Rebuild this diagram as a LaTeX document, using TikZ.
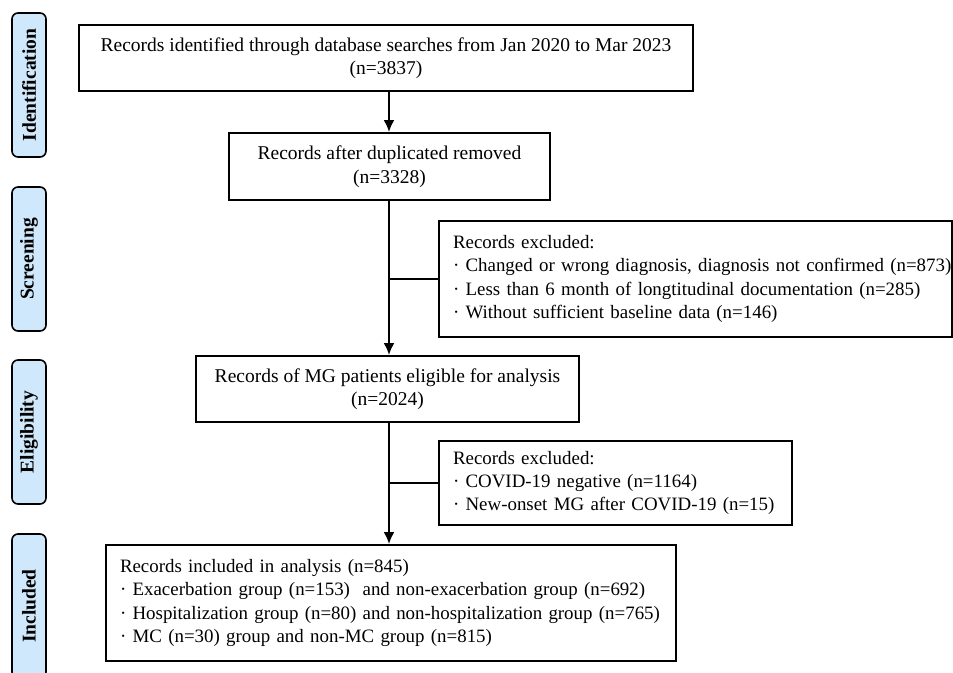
\documentclass[tikz,border=0pt]{standalone}
\usepackage{fontspec}
\setmainfont{Liberation Serif}
\usetikzlibrary{arrows.meta}

\newcommand{\bitem}[1]{\mbox{·\ #1}}

\begin{document}
\begin{tikzpicture}[x=1pt, y=-1pt,
        box/.style={draw, line width=1.8pt, inner sep=0pt, font=\fontsize{19.5}{23.5}\selectfont},
        listbox/.style={box, align=left, inner xsep=14pt, font=\fontsize{18.9}{23.3}\selectfont},
        stage/.style={draw, line width=1.6pt, rounded corners=6pt, fill=stageblue, rotate=90,
                      minimum width=144pt, minimum height=34pt, inner sep=0pt,
                      font=\fontsize{19.5}{23.5}\selectfont\bfseries},
        link/.style={line width=2.5pt, -{Latex[length=12pt, width=11pt]}}]
        \definecolor{stageblue}{RGB}{207,232,251}
        \useasboundingbox (0,0) rectangle (953,672);

        \node[stage] (ident) at (29,85) {Identification};
        \node[stage] (screen) at (29,259) {Screening};
        \node[stage] (elig) at (29,432) {Eligibility};
        \node[stage] (incl) at (29,606) {Included};

        \node[box, align=center, minimum width=614pt, minimum height=66pt] (found) at (386,58)
            {Records identified through database searches from Jan 2020 to Mar 2023\\(n=3837)};
        \node[box, align=center, minimum width=321pt, minimum height=67pt] (dedup) at (389.5,166.5)
            {Records after duplicated removed\\(n=3328)};
        \node[box, align=center, minimum width=383pt, minimum height=66pt] (eligible) at (387.5,389)
            {Records of MG patients eligible for analysis\\(n=2024)};
        \node[listbox, text width=485pt, minimum height=116pt] (exclA) at (695.5,279)
            {Records excluded:\\
             \bitem{Changed or wrong diagnosis, diagnosis not confirmed (n=873)}\\
             \bitem{Less than 6 month of longtitudinal documentation (n=285)}\\
             \bitem{Without sufficient baseline data (n=146)}};
        \node[listbox, text width=325pt, minimum height=84pt] (exclB) at (615.5,483)
            {Records excluded:\\
             \bitem{COVID-19 negative (n=1164)}\\
             \bitem{New-onset MG after COVID-19 (n=15)}};
        \node[listbox, text width=542pt, minimum height=116pt] (included) at (391,603)
            {Records included in analysis (n=845)\\
             \bitem{Exacerbation group (n=153)~ and non-exacerbation group (n=692)}\\
             \bitem{Hospitalization group (n=80) and non-hospitalization group (n=765)}\\
             \bitem{MC (n=30) group and non-MC group (n=815)}};

        \coordinate (trunk) at (389,0);
        \draw[link] (trunk |- found.south) -- (trunk |- dedup.north);
        \draw[link] (trunk |- dedup.south) -- (trunk |- eligible.north);
        \draw[link] (trunk |- eligible.south) -- (trunk |- included.north);

        \draw[line width=2.5pt] (trunk |- exclA.west) -- (exclA.west);
        \draw[line width=2.5pt] (trunk |- exclB.west) -- (exclB.west);
    \end{tikzpicture}
\end{document}
